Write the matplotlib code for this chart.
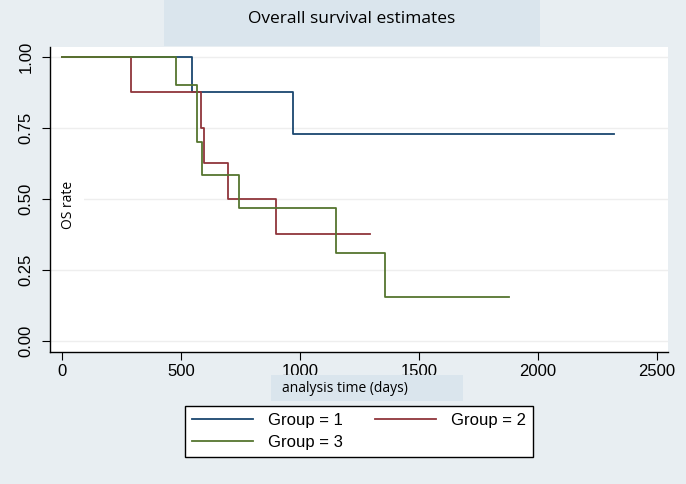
import matplotlib.pyplot as plt
from matplotlib.patches import Rectangle

# Kaplan-Meier step values
g1_time = [0, 545, 970, 2320]
g1_surv = [1.0, 0.875, 0.729, 0.729]
g2_time = [0, 290, 584, 598, 697, 899, 1295]
g2_surv = [1.0, 0.875, 0.75, 0.625, 0.5, 0.375, 0.375]
g3_time = [0, 480, 567, 587, 744, 1150, 1359, 1880]
g3_surv = [1.0, 0.9, 0.7, 0.583, 0.467, 0.311, 0.156, 0.156]

labels = ["Group = 1", "Group = 2", "Group = 3"]
colors = ["#1a476f", "#90353b", "#55752f"]
xticks = [0, 500, 1000, 1500, 2000, 2500]
yticks = [0.0, 0.25, 0.5, 0.75, 1.0]

bg = "#e8eef2"
box = "#dae5ed"

fig = plt.figure(figsize=(6.86, 4.84), dpi=100, facecolor=bg)
ax = fig.add_axes([50 / 686, 1 - 352 / 484, 618 / 686, 305 / 484])
ax.set_facecolor("white")

for y in yticks:
    ax.axhline(y, color="#eeeeee", lw=1.0, zorder=0)

h1, = ax.step(g1_time, g1_surv, where="post", color=colors[0], lw=1.3, label=labels[0])
h2, = ax.step(g2_time, g2_surv, where="post", color=colors[1], lw=1.3, label=labels[1])
h3, = ax.step(g3_time, g3_surv, where="post", color=colors[2], lw=1.3, label=labels[2])

ax.set_xlim(-50, 2546)
ax.set_ylim(-0.039, 1.035)
ax.set_xticks(xticks)
ax.set_xticklabels([str(x) for x in xticks], fontfamily="Liberation Sans", fontsize=12)
ax.set_yticks(yticks)
ax.set_yticklabels(["%.2f" % y for y in yticks], fontfamily="Liberation Sans",
                   fontsize=12, rotation=90, va="center")
ax.tick_params(direction="out", length=6, width=0.8, color="black")
ax.tick_params(axis="y", pad=6)
ax.tick_params(axis="x", pad=3)

for s in ["top", "right"]:
    ax.spines[s].set_visible(False)
for s in ["left", "bottom"]:
    ax.spines[s].set_linewidth(1.0)
    ax.spines[s].set_color("black")

ax.text(27, 0.48, "OS rate", rotation=90, ha="center", va="center",
        fontfamily="Open Sans", fontsize=10,
        bbox=dict(facecolor="white", edgecolor="none", pad=6))

# title box
fig.patches.append(Rectangle((164 / 686, 1 - 46 / 484), 376 / 686, 46 / 484,
                             transform=fig.transFigure, facecolor=box,
                             edgecolor="none", zorder=0))
fig.text(352 / 686, 1 - 19 / 484, "Overall survival estimates", ha="center", va="center",
         fontfamily="Open Sans", fontsize=12.5)

# x axis title box
fig.patches.append(Rectangle((271 / 686, 1 - 401 / 484), 192 / 686, 26 / 484,
                             transform=fig.transFigure, facecolor=box,
                             edgecolor="none", zorder=0))
fig.text(282 / 686, 1 - 388 / 484, "analysis time (days)", ha="left", va="center",
         fontfamily="Open Sans", fontsize=10)

leg = fig.legend([h1, h3, h2], [labels[0], labels[2], labels[1]], ncol=2,
                 loc="upper center", bbox_to_anchor=(359 / 686, 1 - 406 / 484),
                 borderaxespad=0,
                 prop={"family": "Liberation Sans", "size": 12},
                 handlelength=3.7, columnspacing=1.9, handletextpad=0.9,
                 labelspacing=0.45, borderpad=0.4, fancybox=False,
                 frameon=True, edgecolor="black", facecolor="white", framealpha=1)
leg.get_frame().set_linewidth(1.0)

plt.savefig("out.png", dpi=100, facecolor=bg)
